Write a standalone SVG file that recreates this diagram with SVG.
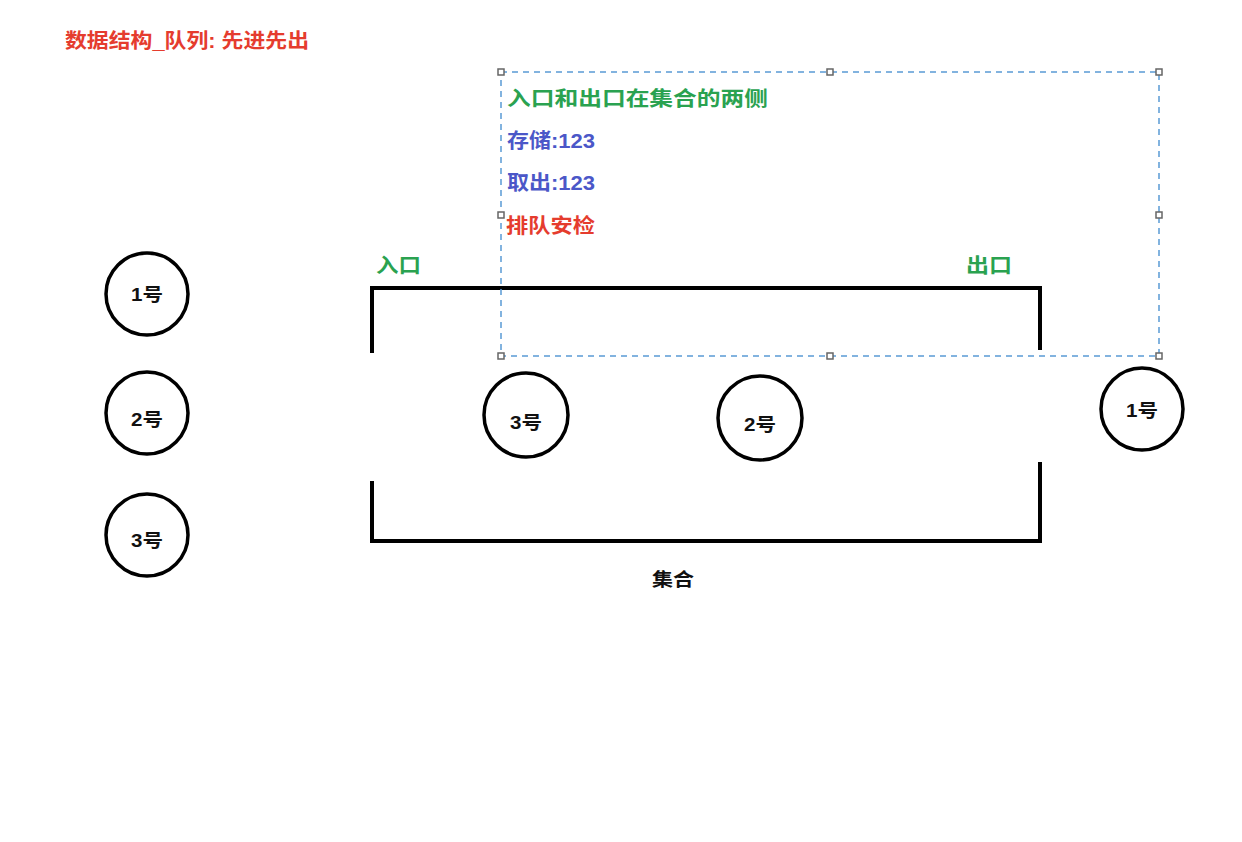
<svg xmlns="http://www.w3.org/2000/svg" width="1242" height="842" viewBox="0 0 1242 842">
<style>
text{font-family:"Liberation Sans","Noto Sans CJK SC",sans-serif;font-weight:bold}
.t{font-size:20px}
.red{fill:#e53c2e}
.green{fill:#2aa250}
.blue{fill:#4b57c8}
.lbl{font-size:18px;fill:#111;text-anchor:middle}
.node circle{fill:#fff;stroke:#000;stroke-width:3.5}
.bracket{fill:none;stroke:#000;stroke-width:4}
.sel{fill:none;stroke:#5a9bd5;stroke-width:1.5;stroke-dasharray:6 5}
.h{fill:#fff;stroke:#666;stroke-width:1.5}
</style>
<rect width="1242" height="842" fill="#fff"/>
<text class="t red" x="65" y="48" textLength="244" lengthAdjust="spacingAndGlyphs">数据结构_队列: 先进先出</text>

<g id="container">
<path class="bracket" d="M372 353 V288 H1040 V350"/>
<path class="bracket" d="M372 481 V541 H1040 V462"/>
<text x="376" y="273" class="t green" textLength="45" lengthAdjust="spacingAndGlyphs">入口</text>
<text x="966" y="273" class="t green" textLength="46" lengthAdjust="spacingAndGlyphs">出口</text>
<text x="673" y="586" class="lbl" textLength="42" lengthAdjust="spacingAndGlyphs">集合</text>
</g>

<g id="note">
<rect class="sel" x="501" y="72" width="658" height="284"/>
<text class="t green" x="507" y="106" textLength="261" lengthAdjust="spacingAndGlyphs">入口和出口在集合的两侧</text>
<text class="t blue" x="507" y="148" textLength="88" lengthAdjust="spacingAndGlyphs">存储:123</text>
<text class="t blue" x="507" y="190" textLength="88" lengthAdjust="spacingAndGlyphs">取出:123</text>
<text class="t red" x="506" y="233" textLength="89" lengthAdjust="spacingAndGlyphs">排队安检</text>
<g>
<rect class="h" x="498" y="69" width="6" height="6"/>
<rect class="h" x="827" y="69" width="6" height="6"/>
<rect class="h" x="1156" y="69" width="6" height="6"/>
<rect class="h" x="498" y="212" width="6" height="6"/>
<rect class="h" x="1156" y="212" width="6" height="6"/>
<rect class="h" x="498" y="353" width="6" height="6"/>
<rect class="h" x="827" y="353" width="6" height="6"/>
<rect class="h" x="1156" y="353" width="6" height="6"/>
</g>
</g>

<g id="connectors"></g>

<g id="n1-left" class="node"><circle cx="147" cy="294" r="41"/><text class="lbl" x="147" y="301" textLength="32" lengthAdjust="spacingAndGlyphs">1号</text></g>
<g id="n2-left" class="node"><circle cx="147" cy="413" r="41"/><text class="lbl" x="147" y="426" textLength="32" lengthAdjust="spacingAndGlyphs">2号</text></g>
<g id="n3-left" class="node"><circle cx="147" cy="535" r="41"/><text class="lbl" x="147" y="547" textLength="32" lengthAdjust="spacingAndGlyphs">3号</text></g>
<g id="n3-mid" class="node"><circle cx="526" cy="415" r="42"/><text class="lbl" x="526" y="429" textLength="32" lengthAdjust="spacingAndGlyphs">3号</text></g>
<g id="n2-mid" class="node"><circle cx="760" cy="418" r="42"/><text class="lbl" x="760" y="431" textLength="32" lengthAdjust="spacingAndGlyphs">2号</text></g>
<g id="n1-right" class="node"><circle cx="1142" cy="409" r="41"/><text class="lbl" x="1142" y="417" textLength="32" lengthAdjust="spacingAndGlyphs">1号</text></g>
</svg>
